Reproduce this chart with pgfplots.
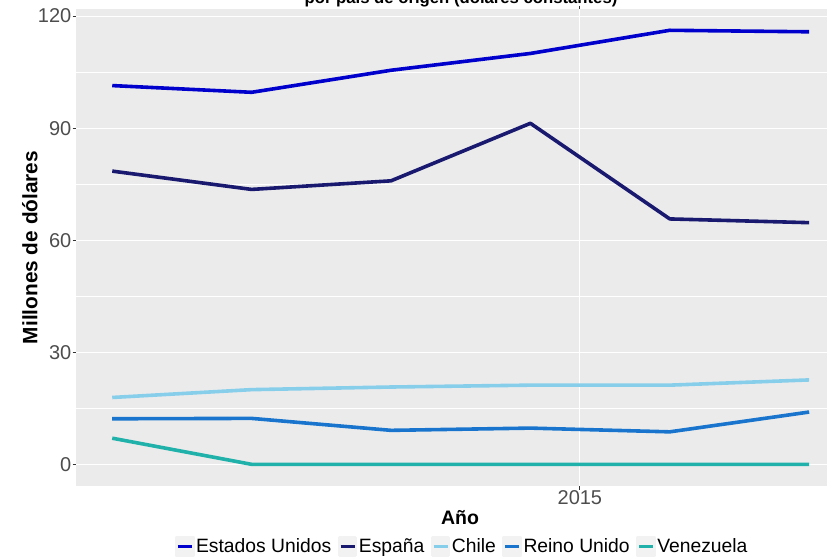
\documentclass[border=0pt]{standalone}
\usepackage{pgfplots}
\pgfplotsset{compat=1.18}
\usepackage{fontspec}
\setmainfont{Liberation Sans}
\definecolor{panelgray}{HTML}{EBEBEB}
\definecolor{keygray}{HTML}{F2F2F2}
\definecolor{ticktxt}{HTML}{4D4D4D}
\definecolor{tickmk}{HTML}{333333}
\definecolor{cUS}{HTML}{0000CD}
\definecolor{cES}{HTML}{191970}
\definecolor{cCL}{HTML}{87CEEB}
\definecolor{cUK}{HTML}{1874CD}
\definecolor{cVE}{HTML}{20B2AA}
\begin{document}
\begin{tikzpicture}[x=1pt,y=1pt]
\begin{axis}[
  at={(76pt,72pt)}, anchor=south west,
  scale only axis, width=768pt, height=477pt,
  xmin=-0.26, xmax=5.25, ymin=-5.8, ymax=121.9,
  axis background/.style={fill=panelgray},
  axis line style={draw=none},
  xtick={3.355}, xticklabels={2015},
  ytick={0,30,60,90,120},
  minor ytick={15,45,75,105},
  grid=both,
  major grid style={white, line width=1.1pt},
  minor grid style={white, line width=0.55pt},
  tick align=outside,
  major tick length=3.5pt,
  minor tick length=0pt,
  tick style={tickmk, line width=0.8pt},
  /pgf/number format/assume math mode=true,
  ticklabel style={font=\fontsize{20}{24}\selectfont, text=ticktxt},
  yticklabel style={inner sep=1pt},
  xticklabel style={inner sep=1pt},
  xlabel={Año},
  xlabel style={at={(axis description cs:0.5,-0.0797)}, anchor=base, font=\bfseries\fontsize{19.5}{23}\selectfont},
  ylabel={Millones de dólares},
  ylabel style={at={(axis description cs:-0.0504,0.5)}, anchor=base, font=\bfseries\fontsize{20.8}{24}\selectfont},
  legend columns=5,
  legend style={at={(axis description cs:0.5026,-0.127)}, anchor=center, draw=none, fill=none,
    font=\fontsize{19.3}{23}\selectfont, inner sep=0pt,
    /tikz/every even column/.append style={column sep=5pt},
    nodes={inner sep=1.5pt}},
  legend cell align=left,
  legend image code/.code={
    \fill[keygray] (0pt,-9pt) rectangle (16pt,9pt);
    \draw[line width=3.5pt, line cap=butt] (1pt,0pt) -- (15pt,0pt);
  },
  every axis plot/.append style={line width=3.6pt, line join=round, line cap=butt},
  clip=false,
]
\addplot[cUS] coordinates {(0,101.4) (1,99.6) (2,105.5) (3,110.0) (4,116.2) (5,115.8)};
\addlegendentry{Estados Unidos}
\addplot[cES] coordinates {(0,78.5) (1,73.6) (2,75.9) (3,91.3) (4,65.7) (5,64.7)};
\addlegendentry{España}
\addplot[cCL] coordinates {(0,17.9) (1,20.0) (2,20.7) (3,21.2) (4,21.2) (5,22.6)};
\addlegendentry{Chile}
\addplot[cUK] coordinates {(0,12.2) (1,12.3) (2,9.1) (3,9.7) (4,8.7) (5,14.0)};
\addlegendentry{Reino Unido}
\addplot[cVE] coordinates {(0,7.0) (1,0) (2,0) (3,0) (4,0) (5,0)};
\addlegendentry{Venezuela}
\end{axis}
\node[anchor=base, font=\bfseries\fontsize{16.7}{20}\selectfont] at (461,554) {por país de origen (dólares constantes)};
\pgfresetboundingbox
\path (0,0) rectangle (827,558);
\end{tikzpicture}
\end{document}
